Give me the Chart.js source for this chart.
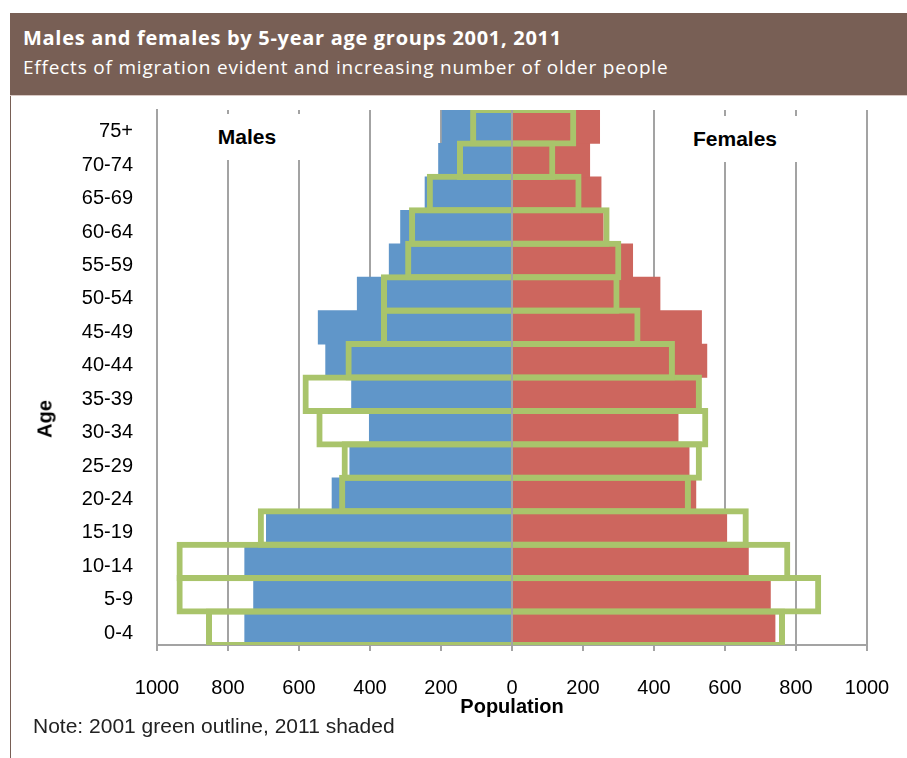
<!DOCTYPE html>
<html>
<head>
<meta charset="utf-8">
<script src="https://cdn.jsdelivr.net/npm/chart.js@4"></script>
<style>
  body { margin: 0; background: #fff; width: 907px; height: 758px; overflow: hidden; position: relative; font-family: "Liberation Sans", Arial, sans-serif; }
  #header { position: absolute; left: 10px; top: 13px; width: 897px; height: 82px; background: #785f55; border-bottom: 1px solid #d9c9c4; }
  #header .title { position: absolute; left: 13px; top: 11px; color: #fff; font-family: "Open Sans", sans-serif; font-weight: bold; font-size: 20px; letter-spacing: 0.7px; white-space: nowrap; }
  #header .sub { position: absolute; left: 13px; top: 41px; color: #fff; font-family: "Open Sans", sans-serif; font-size: 19px; letter-spacing: 0.8px; white-space: nowrap; }
  #frame { position: absolute; left: 10px; top: 96px; width: 1px; height: 662px; background: #785f55; }
  #wrap { position: absolute; left: 10px; top: 96px; width: 897px; height: 662px; }
  .side { position: absolute; background: #fff; font-weight: bold; font-size: 21px; color: #000; text-align: center; line-height: 46px; height: 46px; }
  #age { position: absolute; left: 45px; top: 419px; transform: translate(-50%, -50%) rotate(-90deg); font-weight: bold; font-size: 20px; color: #000; }
  #note { position: absolute; left: 33px; top: 714px; font-size: 21px; color: #222; white-space: nowrap; }
</style>
</head>
<body>
<div id="header">
  <div class="title">Males and females by 5-year age groups 2001, 2011</div>
  <div class="sub">Effects of migration evident and increasing number of older people</div>
</div>
<div id="frame"></div>
<div id="wrap"><canvas id="chart"></canvas></div>
<div class="side" style="left:193px; top:114px; width:108px;">Males</div>
<div class="side" style="left:672px; top:116px; width:126px;">Females</div>
<div id="age">Age</div>
<div id="note">Note: 2001 green outline, 2011 shaded</div>

<script>
// Age groups, youngest first (drawn bottom to top)
const ageGroups = ["0-4", "5-9", "10-14", "15-19", "20-24", "25-29", "30-34", "35-39",
  "40-44", "45-49", "50-54", "55-59", "60-64", "65-69", "70-74", "75+"];

// 2011 (shaded)
const males2011 = [753, 728, 753, 692, 507, 457, 402, 452, 525, 546, 436, 346, 314, 245, 207, 197];
const females2011 = [741, 728, 666, 605, 518, 499, 468, 518, 549, 534, 417, 340, 257, 251, 219, 247];

// 2001 (green outline)
const males2001 = [862, 945, 945, 716, 487, 480, 551, 590, 469, 369, 369, 301, 290, 240, 155, 118];
const females2001 = [769, 871, 784, 667, 504, 535, 553, 535, 459, 362, 303, 308, 275, 196, 122, 181];

const xTicks = [-1000, -800, -600, -400, -200, 0, 200, 400, 600, 800, 1000];

const BLUE = "#6096c9";
const RED = "#cd665e";
const GREEN = "#a9c46b";
const GRID = "#a3a3a3";

// zero line sits above the bars, like in the original
const zeroLine = {
  id: "zeroLine",
  afterDatasetsDraw(chart) {
    const { ctx, chartArea, scales } = chart;
    const x = scales.x.getPixelForValue(0);
    ctx.save();
    ctx.strokeStyle = GRID;
    ctx.lineWidth = 2;
    ctx.beginPath();
    ctx.moveTo(x, chartArea.top);
    ctx.lineTo(x, chartArea.bottom);
    ctx.stroke();
    ctx.restore();
  },
};

const ctx = document.getElementById("chart").getContext("2d");
new Chart(ctx, {
  type: "bar",
  data: {
    labels: ageGroups,
    datasets: [
      {
        label: "Males 2001",
        data: males2001.map((v) => -v),
        backgroundColor: "rgba(0,0,0,0)",
        borderColor: GREEN,
        borderWidth: 6,
        barPercentage: 1.18,
        categoryPercentage: 1,
        grouped: false,
        order: 0,
      },
      {
        label: "Females 2001",
        data: females2001,
        backgroundColor: "rgba(0,0,0,0)",
        borderColor: GREEN,
        borderWidth: 6,
        barPercentage: 1.18,
        categoryPercentage: 1,
        grouped: false,
        order: 0,
      },
      {
        label: "Males 2011",
        data: males2011.map((v) => -v),
        backgroundColor: BLUE,
        barPercentage: 1,
        categoryPercentage: 1,
        grouped: false,
        order: 1,
      },
      {
        label: "Females 2011",
        data: females2011,
        backgroundColor: RED,
        barPercentage: 1,
        categoryPercentage: 1,
        grouped: false,
        order: 1,
      },
    ],
  },
  options: {
    indexAxis: "y",
    responsive: true,
    maintainAspectRatio: false,
    animation: false,
    layout: { padding: { top: 14, right: 40, bottom: 39, left: 0 } },
    plugins: {
      legend: { display: false },
      tooltip: { enabled: false },
    },
    scales: {
      x: {
        min: -1000,
        max: 1000,
        afterBuildTicks: (scale) => {
          scale.ticks = xTicks.map((v) => ({ value: v }));
        },
        afterFit: (scale) => {
          scale.height = 74;
          scale.paddingLeft = 0;
          scale.paddingRight = 0;
        },
        grid: { color: GRID, lineWidth: 2, tickLength: 6 },
        border: { color: GRID, width: 2 },
        ticks: {
          color: "#000",
          padding: 25,
          maxRotation: 0,
          font: { family: "'Liberation Sans', Arial", size: 20 },
          callback: (v) => Math.abs(v),
        },
        title: {
          display: true,
          text: "Population",
          color: "#000",
          padding: 0,
          font: { family: "'Liberation Sans', Arial", size: 20, weight: "bold" },
        },
      },
      y: {
        reverse: true,
        grid: { display: false, drawTicks: false },
        border: { color: GRID, width: 2 },
        afterFit: (scale) => {
          scale.width = 147;
          scale.paddingTop = 0;
          scale.paddingBottom = 0;
        },
        ticks: {
          color: "#000",
          padding: 24,
          labelOffset: 5,
          font: { family: "'Liberation Sans', Arial", size: 20 },
        },
      },
    },
  },
  plugins: [zeroLine],
});
</script>
</body>
</html>
